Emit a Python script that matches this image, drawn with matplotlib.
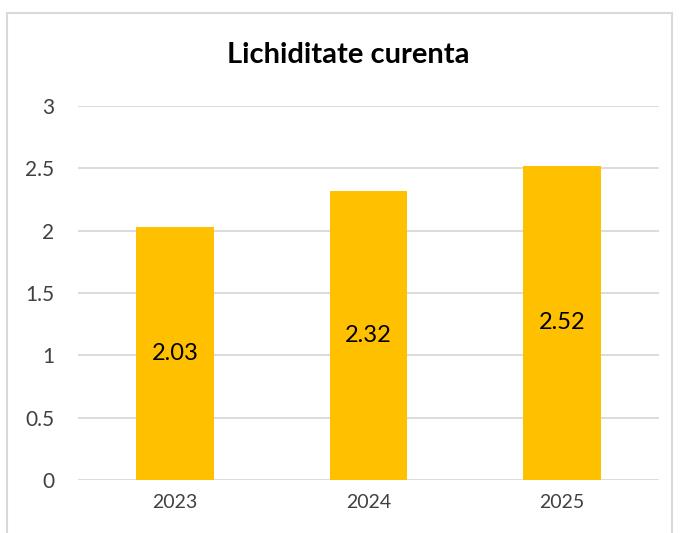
import matplotlib
matplotlib.use("Agg")
import matplotlib.pyplot as plt
from matplotlib.patches import Rectangle

years = ["2023", "2024", "2025"]
values = [2.03, 2.32, 2.52]
yticks = [0, 0.5, 1, 1.5, 2, 2.5, 3]
ytick_labels = ["0", "0.5", "1", "1.5", "2", "2.5", "3"]

plt.rcParams['font.family'] = ['Lato', 'DejaVu Sans']

W, H = 681, 533
fig = plt.figure(figsize=(W / 100, H / 100), dpi=100)
fig.patch.set_facecolor("white")

# chart frame (open at the bottom)
fig.patches.append(Rectangle((7 / W, -0.05), (672 - 7) / W, 1.05 - 13 / H,
                             transform=fig.transFigure, fill=False,
                             edgecolor="#D9D9D9", linewidth=1.5))

ax = fig.add_axes([78 / W, 1 - 480 / H, (659 - 78) / W, (480 - 106) / H])
x = range(len(years))
bars = ax.bar(x, values, width=0.4, color="#FFC000", zorder=3)

for b, v in zip(bars, values):
    ax.text(b.get_x() + b.get_width() / 2, v / 2, f"{v:.2f}",
            ha="center", va="center", fontsize=17, color="black", zorder=4)

ax.set_xlim(-0.5, 2.5)
ax.set_ylim(0, 3)
ax.set_yticks(yticks)
ax.set_yticklabels(ytick_labels)
ax.set_xticks(list(x))
ax.set_xticklabels(years)
ax.tick_params(length=0, labelsize=14, colors="#404040", pad=10)
ax.tick_params(axis="y", labelsize=15, pad=17)
ax.grid(axis="y", color="#D9D9D9", linewidth=1.3, zorder=0)
for s in ax.spines.values():
    s.set_visible(False)

fig.text(348 / W, 1 - 55 / H, "Lichiditate curenta", ha="center", va="center",
         fontsize=21, fontweight="bold", color="black")

fig.savefig("out.png", dpi=100)
